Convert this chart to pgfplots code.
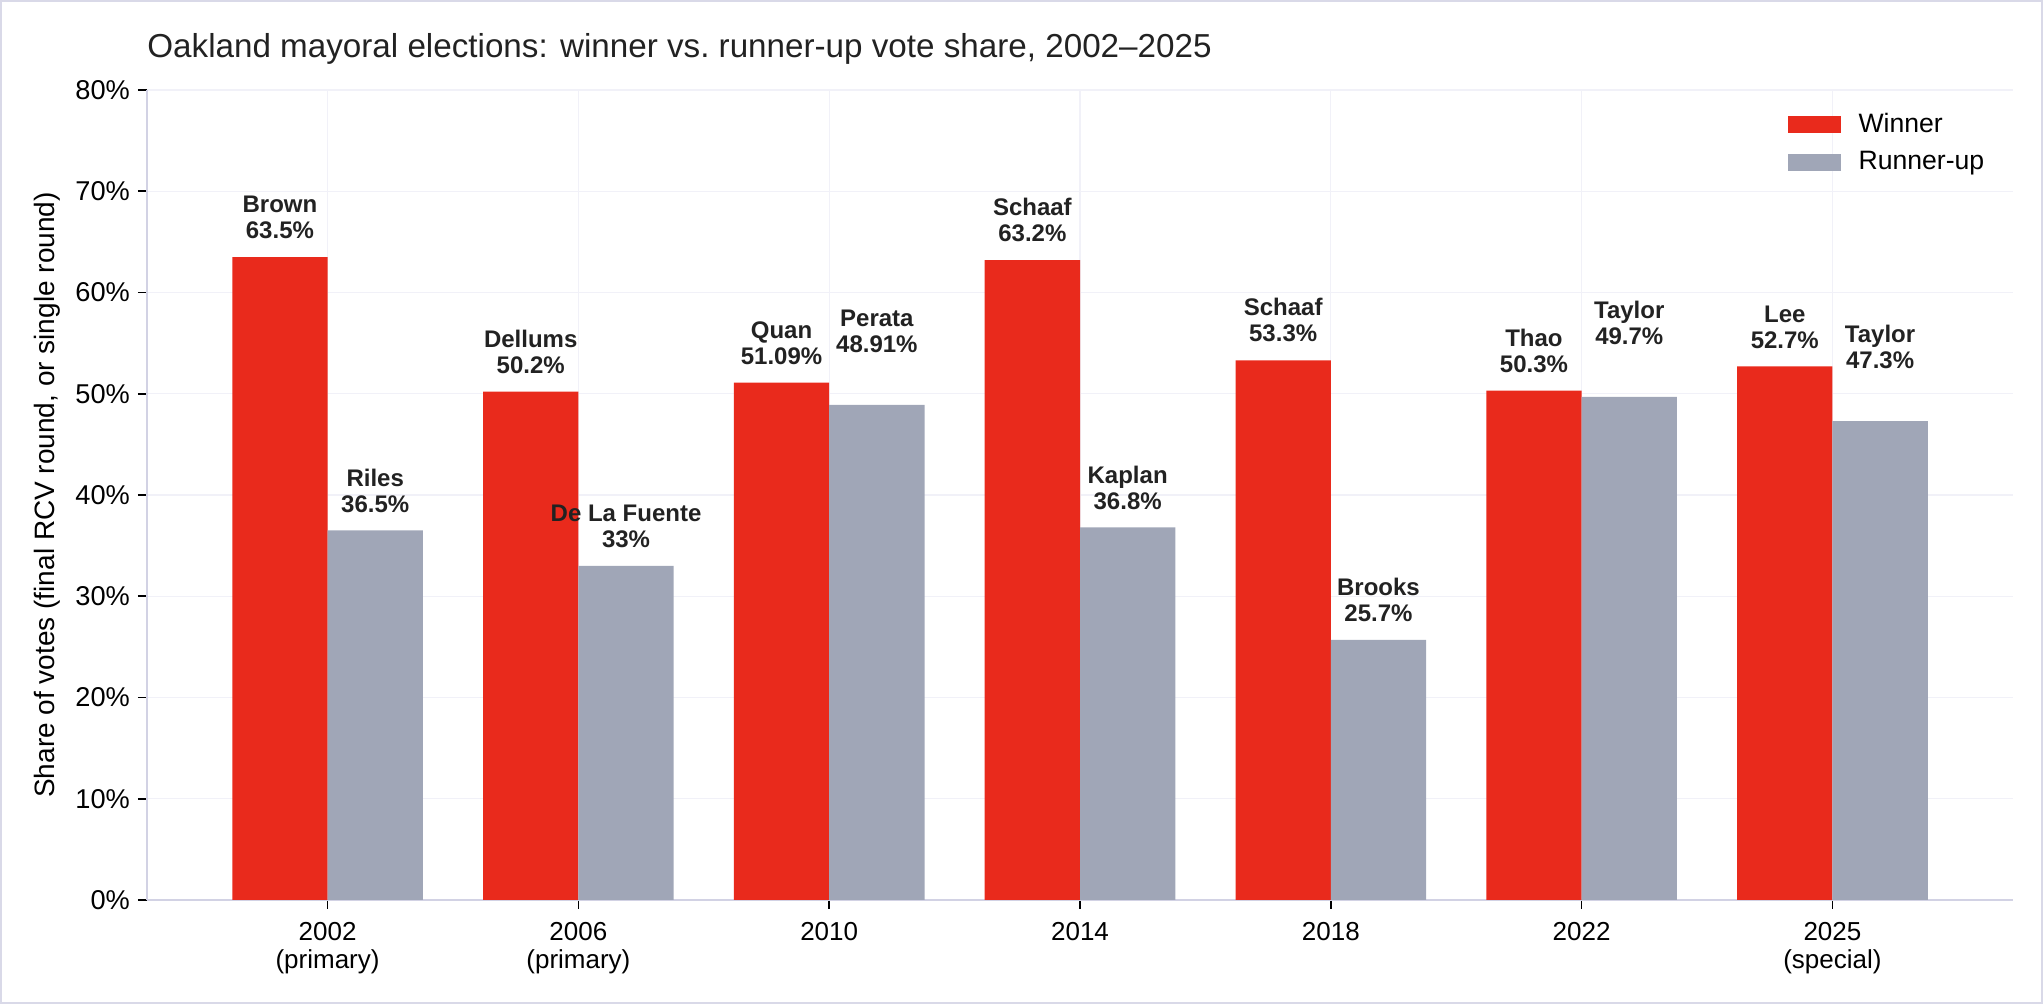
\documentclass[border=0pt]{standalone}
\usepackage{fontspec}
\setmainfont{Liberation Sans}
\usepackage{pgfplots}
\pgfplotsset{compat=1.18}
\definecolor{winred}{HTML}{E92A1C}
\definecolor{rungray}{HTML}{A0A6B7}
\definecolor{framec}{HTML}{D9D9E8}
\definecolor{axisc}{HTML}{D2D2E4}
\definecolor{gridc}{HTML}{F1F1F8}
\definecolor{textc}{HTML}{222222}
\begin{document}
\begin{tikzpicture}
\useasboundingbox (0,0) rectangle (1021.5pt,502pt);
\draw[framec, line width=1pt] (0.5pt,0.5pt) rectangle (1021pt,501.5pt);
\node[anchor=base west, inner sep=0pt, text=textc, font=\fontsize{16.6}{19}\selectfont] at (73.5pt,473.2pt) {Oakland mayoral elections: winner vs.\ runner-up vote share, 2002--2025};
\node[rotate=90, anchor=center, inner sep=0pt, font=\fontsize{14}{16}\selectfont] at (23.5pt,254.5pt) {Share of votes (final RCV round, or single round)};
\begin{axis}[
  at={(73.5pt,52pt)}, anchor=south west,
  scale only axis, width=933pt, height=405pt,
  xmin=-0.72, xmax=6.72, ymin=0, ymax=80,
  xtick={0,1,2,3,4,5,6},
  xticklabels={2002\\(primary),2006\\(primary),2010,2014,2018,2022,2025\\(special)},
  xticklabel style={align=center, font=\fontsize{13}{14.3}\selectfont, yshift=-3pt},
  ytick={0,10,20,30,40,50,60,70,80},
  yticklabels={0\%,10\%,20\%,30\%,40\%,50\%,60\%,70\%,80\%},
  yticklabel style={font=\fontsize{13.6}{15}\selectfont, xshift=-0.5pt},
  axis x line*=bottom, axis y line*=left,
  axis line style={axisc, line width=1pt, -},
  tick align=outside, major tick length=4.5pt,
  tick style={black, line width=0.8pt},
  grid=major, major grid style={gridc, line width=0.6pt},
  legend style={draw=none, fill=none, at={(0.988,0.979)}, anchor=north east, inner sep=0pt,
    font=\fontsize{13.3}{15}\selectfont, row sep=2pt, nodes={inner sep=3pt}},
  legend cell align=left,
]
\addplot[ybar, bar width=0.38, bar shift=-0.19, fill=winred, draw=none,
  legend image code/.code={\fill[winred] (0pt,-4.4pt) rectangle (26.5pt,4.4pt);}]
  coordinates {(0,63.5) (1,50.2) (2,51.09) (3,63.2) (4,53.3) (5,50.3) (6,52.7)};
\addlegendentry{\hspace{6pt}Winner}
\addplot[ybar, bar width=0.38, bar shift=0.19, fill=rungray, draw=none,
  legend image code/.code={\fill[rungray] (0pt,-4.4pt) rectangle (26.5pt,4.4pt);}]
  coordinates {(0,36.5) (1,33) (2,48.91) (3,36.8) (4,25.7) (5,49.7) (6,47.3)};
\addlegendentry{\hspace{6pt}Runner-up}
\tikzset{lab/.style={anchor=south, inner sep=0pt, align=center, text=textc, font=\bfseries\fontsize{12}{13}\selectfont}}
\node[lab] at (axis cs:-0.19,65.25) {Brown\\63.5\%};
\node[lab] at (axis cs:0.81,51.95) {Dellums\\50.2\%};
\node[lab] at (axis cs:1.81,52.84) {Quan\\51.09\%};
\node[lab] at (axis cs:2.81,64.95) {Schaaf\\63.2\%};
\node[lab] at (axis cs:3.81,55.05) {Schaaf\\53.3\%};
\node[lab] at (axis cs:4.81,52.05) {Thao\\50.3\%};
\node[lab] at (axis cs:5.81,54.45) {Lee\\52.7\%};
\node[lab] at (axis cs:0.19,38.25) {Riles\\36.5\%};
\node[lab] at (axis cs:1.19,34.7) {De La Fuente\\33\%};
\node[lab] at (axis cs:2.19,54.0) {Perata\\48.91\%};
\node[lab] at (axis cs:3.19,38.55) {Kaplan\\36.8\%};
\node[lab] at (axis cs:4.19,27.45) {Brooks\\25.7\%};
\node[lab] at (axis cs:5.19,54.8) {Taylor\\49.7\%};
\node[lab] at (axis cs:6.19,52.4) {Taylor\\47.3\%};
\end{axis}
\end{tikzpicture}
\end{document}
